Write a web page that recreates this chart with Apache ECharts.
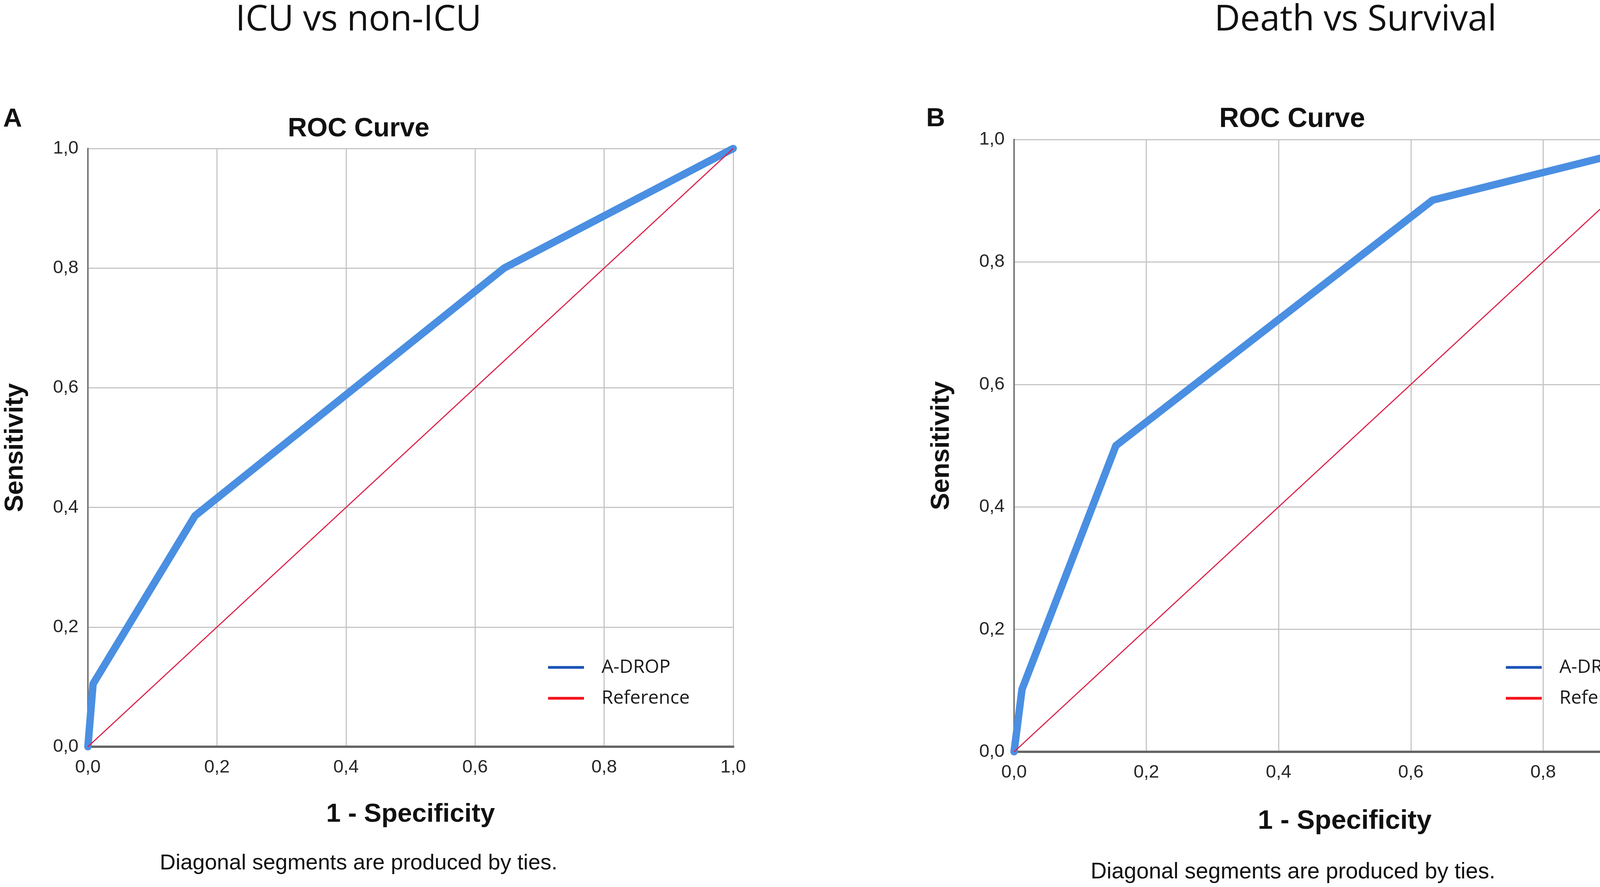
<!DOCTYPE html>
<html>
<head>
<meta charset="utf-8">
<script src="https://cdn.jsdelivr.net/npm/echarts@6/dist/echarts.min.js"></script>
<style>
html,body{margin:0;padding:0;background:#fff;}
#chart{width:4328px;height:2270px;}
</style>
</head>
<body>
<div id="chart"></div>
<script>
// ---- data ----
var panelTitles = ['ICU vs non-ICU', 'Death vs Survival'];
var panelLetters = ['A', 'B'];
var seriesNames = ['A-DROP', 'Reference'];
var tickLabels = ['0,0', '0,2', '0,4', '0,6', '0,8', '1,0'];

// Panel A: ICU vs non-ICU  (1 - Specificity, Sensitivity)
var icuFpr  = [0, 0.008, 0.166, 0.645, 1];
var icuTpr  = [0, 0.105, 0.386, 0.800, 1];
// Panel B: Death vs Survival
var deathFpr = [0, 0.012, 0.154, 0.633, 1];
var deathTpr = [0, 0.102, 0.500, 0.901, 1];
// Reference diagonal
var refFpr = [0, 1];
var refTpr = [0, 1];

function pairs(xs, ys) { return xs.map(function (x, i) { return [x, ys[i]]; }); }
function tickFmt(v) { return tickLabels[Math.round(v / 0.2)]; }

var chart = echarts.init(document.getElementById('chart'), null, {renderer: 'canvas'});

var grids = [
  {left: 225, top: 380, width: 1652, height: 1531},
  {left: 2596, top: 357, width: 1693, height: 1567}
];

function xAx(i, gap, fs) {
  return {
    gridIndex: i, type: 'value', min: 0, max: 1, interval: 0.2,
    name: '1 - Specificity', nameLocation: 'middle', nameGap: gap,
    nameTextStyle: {fontFamily: 'Liberation Sans', fontWeight: 'bold', fontSize: fs, color: '#111'},
    axisLine: {show: true, onZero: false, lineStyle: {color: '#666666', width: 6}},
    axisTick: {show: false},
    axisLabel: {formatter: tickFmt, fontFamily: 'Liberation Sans', fontSize: 47, color: '#262626', margin: 30},
    splitLine: {show: true, lineStyle: {color: '#c6c6c6', width: 3}}
  };
}
function yAx(i, gap) {
  return {
    gridIndex: i, type: 'value', min: 0, max: 1, interval: 0.2,
    name: 'Sensitivity', nameLocation: 'middle', nameGap: gap, nameRotate: 90,
    nameTextStyle: {fontFamily: 'Liberation Sans', fontWeight: 'bold', fontSize: 66, color: '#111'},
    axisLine: {show: true, onZero: false, lineStyle: {color: '#777777', width: 4}},
    axisTick: {show: false},
    axisLabel: {formatter: tickFmt, fontFamily: 'Liberation Sans', fontSize: 47, color: '#262626', margin: 24},
    splitLine: {show: true, lineStyle: {color: '#c6c6c6', width: 3}}
  };
}

var blue = '#4a8fe2';
var red = '#dc1f48';

function rocSeries(i, data) {
  return {
    name: seriesNames[0], type: 'line', xAxisIndex: i, yAxisIndex: i,
    data: data, showSymbol: false, symbol: 'none', silent: true, animation: false,
    lineStyle: {color: blue, width: 19, cap: 'round', join: 'round'},
    itemStyle: {color: blue}, z: 2
  };
}
function refSeries(i) {
  return {
    name: seriesNames[1], type: 'line', xAxisIndex: i, yAxisIndex: i,
    data: pairs(refFpr, refTpr), showSymbol: false, symbol: 'none', silent: true, animation: false,
    lineStyle: {color: red, width: 3},
    itemStyle: {color: red}, z: 3
  };
}

function legendAt(left, top) {
  return {
    orient: 'vertical', left: left, top: top, padding: 0,
    itemWidth: 92, itemHeight: 7, itemGap: 31, selectedMode: false,
    textStyle: {fontFamily: 'Open Sans', fontSize: 48, color: '#1a1a1a', padding: [0, 0, 0, 40]},
    data: [
      {name: seriesNames[0], icon: 'rect', itemStyle: {color: '#1b52b8'}},
      {name: seriesNames[1], icon: 'rect', itemStyle: {color: '#f5121a'}}
    ]
  };
}

function titleAt(text, x, y, fam, fs, weight) {
  return {
    text: text, left: x, top: y, padding: 0,
    textAlign: 'center', textVerticalAlign: 'middle',
    textStyle: {fontFamily: fam, fontSize: fs, fontWeight: weight, color: '#111'}
  };
}

function gtext(text, x, y, fs, weight, align) {
  return {
    type: 'text', x: x, y: y, silent: true,
    style: {text: text, fontFamily: 'Liberation Sans', fontSize: fs, fontWeight: weight,
            fill: '#111', align: align, verticalAlign: 'middle',
            textAlign: align, textVerticalAlign: 'middle'}
  };
}

var option = {
  backgroundColor: '#ffffff',
  animation: false,
  title: [
    titleAt(panelTitles[0], 918, 52, 'Open Sans', 91, 'normal'),
    titleAt(panelTitles[1], 3470, 52, 'Open Sans', 91, 'normal'),
    titleAt('ROC Curve', 918, 330, 'Liberation Sans', 68, 'bold'),
    titleAt('ROC Curve', 3308, 306, 'Liberation Sans', 70, 'bold')
  ],
  grid: grids,
  xAxis: [xAx(0, 140, 67), xAx(1, 143, 69)],
  yAxis: [yAx(0, 152), yAx(1, 152)],
  legend: [legendAt(1403, 1684), legendAt(3855, 1684)],
  series: [
    rocSeries(0, pairs(icuFpr, icuTpr)),
    refSeries(0),
    rocSeries(1, pairs(deathFpr, deathTpr)),
    refSeries(1)
  ],
  graphic: [
    gtext(panelLetters[0], 8, 306, 67, 'bold', 'left'),
    gtext(panelLetters[1], 2371, 305, 67, 'bold', 'left'),
    gtext('Diagonal segments are produced by ties.', 918, 2210, 56, 'normal', 'center'),
    gtext('Diagonal segments are produced by ties.', 3310, 2232, 57, 'normal', 'center')
  ]
};
chart.setOption(option);
</script>
</body>
</html>
